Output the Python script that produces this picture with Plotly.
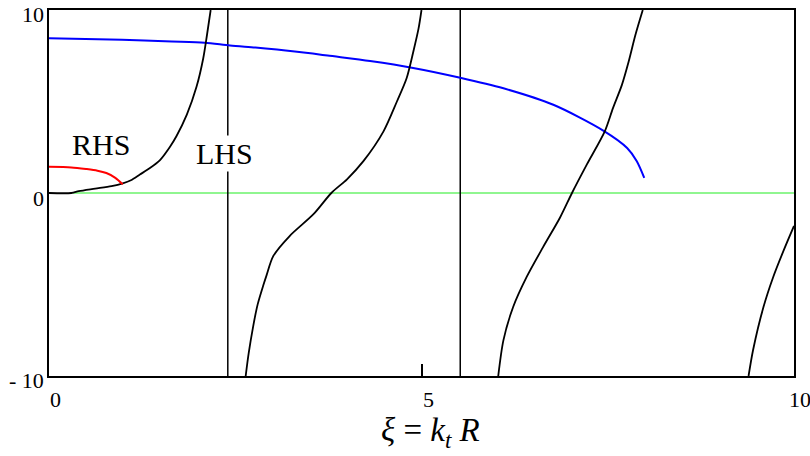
import plotly.graph_objects as go

# Left-hand side branches (xi, LHS value)
xi_lhs1 = [0, 0.30, 0.40, 0.62, 0.84, 0.99, 1.10, 1.22, 1.35, 1.49, 1.62, 1.71, 1.85, 1.98, 2.07, 2.12, 2.17]
lhs1 = [0, 0, 0.10, 0.24, 0.38, 0.53, 0.70, 1.01, 1.35, 1.80, 2.50, 3.10, 4.28, 5.80, 7.35, 8.62, 10.0]

xi_lhs2 = [2.64, 2.68, 2.74, 2.80, 2.88, 2.92, 3.01, 3.23, 3.55, 3.79, 4.00, 4.22, 4.49, 4.67, 4.80, 4.89, 4.96, 5.00]
lhs2 = [-10.0, -8.77, -7.30, -6.10, -5.00, -4.50, -3.45, -2.35, -1.16, 0.0, 0.75, 1.74, 3.37, 5.0, 6.27, 7.72, 8.98, 10.0]

xi_lhs3 = [6.03, 6.10, 6.23, 6.41, 6.63, 6.86, 7.02, 7.22, 7.46, 7.57, 7.69, 7.78, 7.87, 7.97]
lhs3 = [-10.0, -8.04, -6.23, -4.60, -2.97, -1.34, 0.0, 1.56, 3.37, 4.64, 5.91, 7.17, 8.62, 10.0]

xi_lhs4 = [9.39, 9.45, 9.59, 9.72, 9.86, 10.0]
lhs4 = [-10.0, -8.59, -6.23, -4.60, -3.15, -1.80]

# Right-hand side curves
xi_rhs_big = [0, 0.98, 1.65, 2.09, 2.43, 2.77, 3.06, 3.30, 3.54, 3.74, 4.31, 4.87, 5.52,
              6.10, 6.77, 7.44, 7.76, 7.89, 7.99]
rhs_big = [8.46, 8.37, 8.28, 8.21, 8.06, 7.95, 7.84, 7.73, 7.62, 7.51, 7.21, 6.85, 6.30,
           5.72, 4.82, 3.41, 2.46, 1.74, 0.83]

xi_rhs_small = [0, 0.30, 0.50, 0.65, 0.77, 0.89, 0.99]
rhs_small = [1.43, 1.40, 1.31, 1.22, 1.09, 0.83, 0.47]

# Zero line and vertical asymptotes
xi_zero = [0.32, 10.0]
zero_line = [0.0, 0.0]
asymptotes = [2.40, 5.52]
y_span = [-10.0, 10.0]

x_ticks = [0, 5, 10]
x_ticklabels = ["0", "5", "10"]
y_ticks = [10, 0, -10]
y_ticklabels = ["10", "0", "- 10"]

FONT = "Liberation Serif, Times New Roman, serif"
TICK_SIZE = 22

fig = go.Figure()

fig.add_trace(go.Scatter(x=xi_zero, y=zero_line, mode="lines",
                         line=dict(color="#22ee22", width=1.2)))

for xa in asymptotes:
    fig.add_trace(go.Scatter(x=[xa, xa], y=y_span, mode="lines",
                             line=dict(color="black", width=1.5)))

fig.add_trace(go.Scatter(x=xi_rhs_big, y=rhs_big, mode="lines",
                         line=dict(color="#0000ff", width=2, shape="spline", smoothing=0.8)))

for xs, ys in [(xi_lhs1, lhs1), (xi_lhs2, lhs2), (xi_lhs3, lhs3), (xi_lhs4, lhs4)]:
    fig.add_trace(go.Scatter(x=xs, y=ys, mode="lines",
                             line=dict(color="black", width=1.8, shape="spline", smoothing=0.8)))

fig.add_trace(go.Scatter(x=xi_rhs_small, y=rhs_small, mode="lines",
                         line=dict(color="#ff0000", width=2, shape="spline", smoothing=0.8)))

# Curve labels
fig.add_annotation(x=0.70, y=2.66, text="RHS", showarrow=False,
                   font=dict(family=FONT, size=30, color="black"))
fig.add_annotation(x=2.36, y=2.17, text="LHS", showarrow=False,
                   bgcolor="white", font=dict(family=FONT, size=30, color="black"))

# Tick labels placed as text next to the frame
x_shift = {0: 6, 5: 7, 10: 6}
for v, t in zip(x_ticks, x_ticklabels):
    fig.add_annotation(x=v, y=-10, xref="x", yref="y", text=t, showarrow=False,
                       xanchor="center", yanchor="middle", xshift=x_shift[v], yshift=-23,
                       font=dict(family=FONT, size=TICK_SIZE, color="black"))
y_shift = {10: -4, 0: -5, -10: -4}
for v, t in zip(y_ticks, y_ticklabels):
    fig.add_annotation(x=0, y=v, xref="x", yref="y", text=t, showarrow=False,
                       xanchor="right", yanchor="middle", xshift=-3, yshift=y_shift[v],
                       font=dict(family=FONT, size=TICK_SIZE, color="black"))

# Axis title
fig.add_annotation(x=5.12, y=-10, xref="x", yref="y",
                   text="<i>ξ</i> = <i>k<sub>t</sub> R</i>", showarrow=False,
                   xanchor="center", yanchor="middle", yshift=-56,
                   font=dict(family=FONT, size=33, color="black"))

fig.update_layout(
    width=810, height=456,
    margin=dict(l=49, r=16, t=8, b=80),
    plot_bgcolor="white", paper_bgcolor="white",
    showlegend=False,
    font=dict(family=FONT, size=TICK_SIZE, color="black"),
)

fig.update_xaxes(range=[0, 10], tickvals=x_ticks, showticklabels=False,
                 ticks="inside", ticklen=12, tickwidth=2, tickcolor="black",
                 showgrid=False, zeroline=False,
                 showline=True, linecolor="black", linewidth=2, mirror=True)
fig.update_yaxes(range=[-10, 10], tickvals=y_ticks, showticklabels=False,
                 ticks="", showgrid=False, zeroline=False,
                 showline=True, linecolor="black", linewidth=2, mirror=True)

fig.write_html("out.html")
